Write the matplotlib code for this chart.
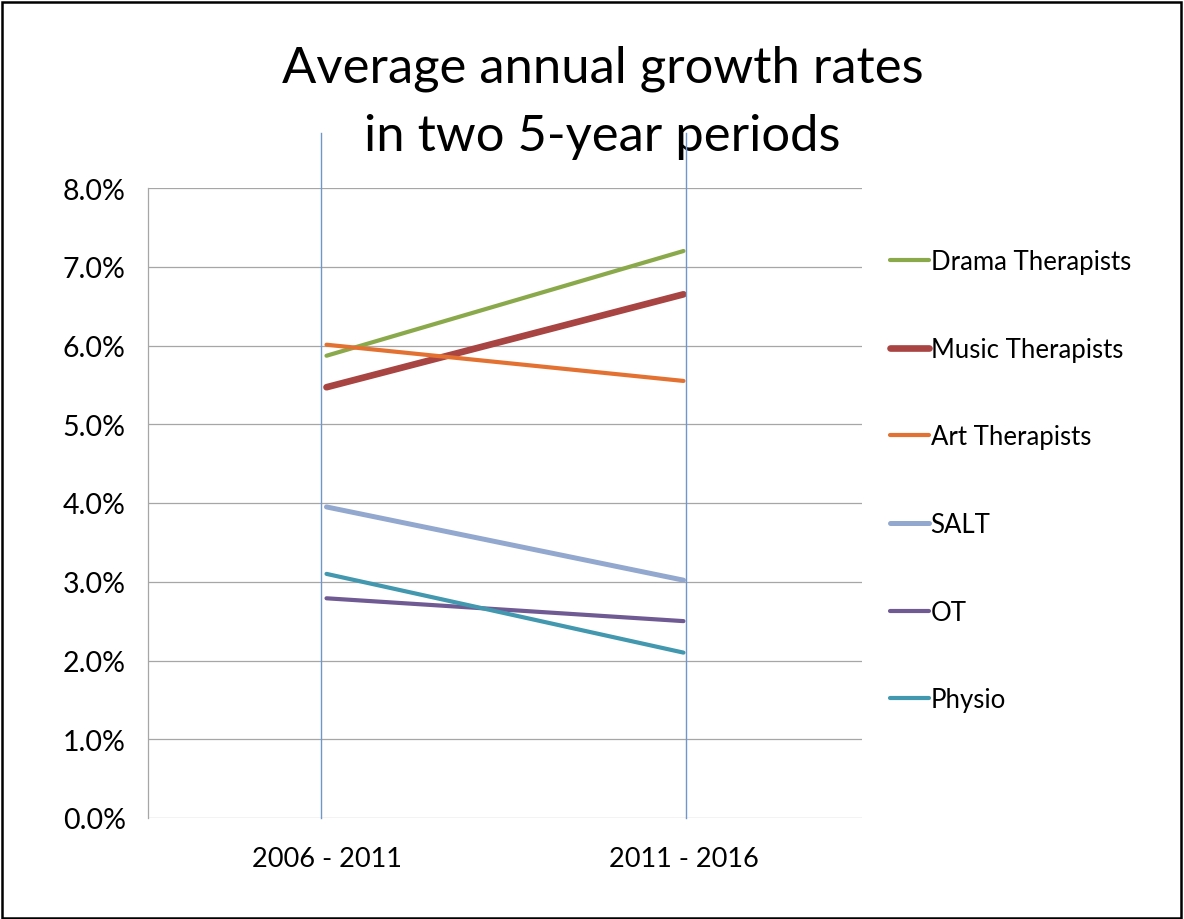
import matplotlib
matplotlib.use("Agg")
import matplotlib.pyplot as plt
from matplotlib.patches import Rectangle
from matplotlib.ticker import FuncFormatter

plt.rcParams['font.family'] = ['Lato', 'DejaVu Sans']

periods = ["2006 - 2011", "2011 - 2016"]
series_names = ["Drama Therapists", "Music Therapists", "Art Therapists",
                "SALT", "OT", "Physio"]
drama = [5.87, 7.20]
music = [5.47, 6.65]
art = [6.01, 5.55]
salt = [3.95, 3.02]
ot = [2.79, 2.50]
physio = [3.10, 2.10]
y_ticks = [0, 1, 2, 3, 4, 5, 6, 7, 8]

colors = ["#8AA94A", "#A84442", "#E37232", "#93A8CF", "#705A93", "#4298AF"]
widths = [3.0, 4.8, 3.0, 3.6, 3.0, 3.0]

fig = plt.figure(figsize=(11.84, 9.2), dpi=100)
ax = fig.add_axes([148 / 1184, 101 / 920, 714 / 1184, 630 / 920])

x = list(range(len(periods)))
for vals, name, c, lw in zip([drama, music, art, salt, ot, physio],
                             series_names, colors, widths):
    ax.plot(x, vals, color=c, lw=lw, label=name, solid_capstyle='round',
            zorder=3)

# the two hand-drawn blue markers sitting just off the category points
for xv in [-0.015, 1.007]:
    ax.plot([xv, xv], [0, 8.70], color="#6F97CB", lw=1.0, clip_on=False,
            zorder=6)

ax.set_xlim(-0.5, 1.5)
ax.set_ylim(0, 8)
ax.set_yticks(y_ticks)
ax.yaxis.set_major_formatter(FuncFormatter(lambda v, p: f"{v:.1f}%"))
ax.set_xticks(x)
ax.set_xticklabels(periods)
ax.tick_params(axis='y', length=0, pad=16, labelsize=20.5)
ax.tick_params(axis='x', length=0, pad=20, labelsize=19.5)
ax.grid(axis='y', color="#A6A6A6", lw=0.9, zorder=0)
for s in ['top', 'right', 'bottom']:
    ax.spines[s].set_visible(False)
ax.spines['left'].set_color("#A6A6A6")
ax.spines['left'].set_linewidth(0.9)

ax.text(0.509, 0.95, "Average annual growth rates\nin two 5-year periods",
        transform=fig.transFigure, ha='center', va='top', fontsize=36.5,
        linespacing=1.59, zorder=1)

ax.legend(loc='upper left', bbox_to_anchor=(890 / 1184, 1 - 250 / 920),
          bbox_transform=fig.transFigure, frameon=False, fontsize=18.5,
          handlelength=1.5, handletextpad=0.08, labelspacing=2.44,
          borderpad=0, borderaxespad=0)

fig.patches.append(Rectangle((1.5 / 1184, 1.5 / 920), 1179 / 1184, 916 / 920,
                             transform=fig.transFigure, fill=False,
                             edgecolor='black', lw=1.8, zorder=10))

fig.savefig("out.png", dpi=100)
